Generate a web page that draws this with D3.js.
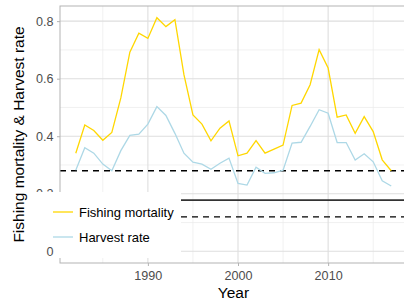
<!DOCTYPE html>
<html>
<head>
<meta charset="utf-8">
<script src="https://cdn.jsdelivr.net/npm/d3@7"></script>
<style>
  body { margin: 0; background: #fff; }
  svg { display: block; font-family: "Liberation Sans", Arial, sans-serif; }
</style>
</head>
<body>
<div id="chart"></div>
<script>
var years = [1982, 1983, 1984, 1985, 1986, 1987, 1988, 1989, 1990, 1991, 1992, 1993,
  1994, 1995, 1996, 1997, 1998, 1999, 2000, 2001, 2002, 2003, 2004, 2005,
  2006, 2007, 2008, 2009, 2010, 2011, 2012, 2013, 2014, 2015, 2016, 2017];

var fishingMortality = [0.341, 0.439, 0.42, 0.386, 0.413, 0.533, 0.692, 0.758, 0.74, 0.812, 0.781, 0.805,
  0.614, 0.474, 0.442, 0.384, 0.428, 0.453, 0.332, 0.341, 0.385, 0.341, 0.355, 0.369,
  0.507, 0.515, 0.579, 0.701, 0.637, 0.466, 0.474, 0.41, 0.468, 0.416, 0.318, 0.28];

var harvestRate = [0.282, 0.36, 0.341, 0.303, 0.28, 0.35, 0.403, 0.407, 0.442, 0.503, 0.472, 0.41,
  0.341, 0.31, 0.303, 0.285, 0.306, 0.324, 0.236, 0.23, 0.292, 0.271, 0.273, 0.282,
  0.376, 0.379, 0.434, 0.492, 0.48, 0.378, 0.378, 0.317, 0.339, 0.311, 0.245, 0.227];

var refValues = [0.28, 0.178, 0.12];
var refStyles = ["dashed", "solid", "dashed"];

var seriesNames = ["Fishing mortality", "Harvest rate"];
var seriesColors = ["#ffd700", "#add8e6"];

var xTicks = [1990, 2000, 2010];
var xMinor = [1985, 1995, 2005, 2015];
var yTicks = [0, 0.2, 0.4, 0.6, 0.8];
var yMinor = [0.1, 0.3, 0.5, 0.7];

var W = 404, H = 301;
var margin = {top: 6, right: -3, bottom: 38, left: 60},
    width = W - margin.left - margin.right,
    height = H - margin.top - margin.bottom;

var x = d3.scaleLinear().domain([1980.25, 2018.75]).range([0, width]);
var y = d3.scaleLinear().domain([-0.0406, 0.8526]).range([height, 0]);

var svg = d3.select("#chart").append("svg")
    .attr("width", W)
    .attr("height", H);

var g = svg.append("g")
    .attr("transform", "translate(" + margin.left + "," + margin.top + ")");

// grid
g.selectAll(".gy-minor").data(yMinor).enter().append("line")
    .attr("x1", 0).attr("x2", width)
    .attr("y1", d => y(d)).attr("y2", d => y(d))
    .style("stroke", "#ebebeb").style("stroke-width", 0.7);
g.selectAll(".gx-minor").data(xMinor).enter().append("line")
    .attr("y1", 0).attr("y2", height)
    .attr("x1", d => x(d)).attr("x2", d => x(d))
    .style("stroke", "#ebebeb").style("stroke-width", 0.7);
g.selectAll(".gy-major").data(yTicks).enter().append("line")
    .attr("x1", 0).attr("x2", width)
    .attr("y1", d => y(d)).attr("y2", d => y(d))
    .style("stroke", "#dedede").style("stroke-width", 1.1);
g.selectAll(".gx-major").data(xTicks).enter().append("line")
    .attr("y1", 0).attr("y2", height)
    .attr("x1", d => x(d)).attr("x2", d => x(d))
    .style("stroke", "#dedede").style("stroke-width", 1.1);

// reference lines
g.selectAll(".ref").data(refValues).enter().append("line")
    .attr("x1", 0).attr("x2", width)
    .attr("y1", d => y(d)).attr("y2", d => y(d))
    .style("stroke", (d, i) => refStyles[i] === "solid" ? "#333" : "#000")
    .style("stroke-width", (d, i) => refStyles[i] === "solid" ? 1.8 : 1.3)
    .style("stroke-dasharray", (d, i) => refStyles[i] === "solid" ? null : "6,5");

var line = d3.line()
    .x(function(d, i) { return x(years[i]); })
    .y(function(d) { return y(d); });

g.append("path").datum(harvestRate)
    .attr("d", line)
    .style("fill", "none").style("stroke", seriesColors[1]).style("stroke-width", 1.3);
g.append("path").datum(fishingMortality)
    .attr("d", line)
    .style("fill", "none").style("stroke", seriesColors[0]).style("stroke-width", 1.3);

// panel border
g.append("rect")
    .attr("x", 0).attr("y", 0).attr("width", width).attr("height", height)
    .style("fill", "none").style("stroke", "#b3b3b3").style("stroke-width", 1);

// axes
function styleAxis(sel) {
  sel.select(".domain").remove();
  sel.selectAll("line").style("stroke", "#b3b3b3");
  sel.selectAll("text").style("font-size", "12.6px").style("fill", "#4d4d4d");
}

g.append("g")
    .attr("transform", "translate(0," + height + ")")
    .call(d3.axisBottom(x).tickValues(xTicks).tickFormat(d3.format("d")).tickSize(3).tickPadding(5))
    .call(styleAxis);

g.append("g")
    .call(d3.axisLeft(y).tickValues(yTicks).tickFormat(d => d === 0 ? "0" : d3.format(".1f")(d)).tickSize(3).tickPadding(3.5))
    .call(styleAxis);

// legend
var legend = svg.append("g");
legend.append("rect")
    .attr("x", 30).attr("y", 192).attr("width", 151).attr("height", 66)
    .style("fill", "#fff");
seriesNames.forEach(function(name, i) {
  var ly = 212 + i * 25;
  legend.append("line")
      .attr("x1", 53).attr("x2", 73).attr("y1", ly).attr("y2", ly)
      .style("stroke", seriesColors[i]).style("stroke-width", 1.3);
  legend.append("text")
      .attr("x", 79).attr("y", ly).attr("dy", "0.35em")
      .style("font-size", "13px").style("fill", "#000")
      .text(name);
});

// zero label sits above the legend box
svg.append("g")
    .attr("transform", "translate(" + margin.left + "," + margin.top + ")")
    .call(d3.axisLeft(y).tickValues([0]).tickFormat(() => "0").tickSize(0).tickPadding(6.5))
    .call(styleAxis);

// titles
svg.append("text")
    .attr("x", margin.left + width / 2)
    .attr("y", 298)
    .attr("text-anchor", "middle")
    .style("font-size", "15.5px").style("fill", "#000")
    .text("Year");

svg.append("text")
    .attr("transform", "translate(23.5," + (margin.top + height / 2) + ") rotate(-90)")
    .attr("text-anchor", "middle")
    .style("font-size", "15.5px").style("fill", "#000")
    .text("Fishing mortality & Harvest rate");
</script>
</body>
</html>
